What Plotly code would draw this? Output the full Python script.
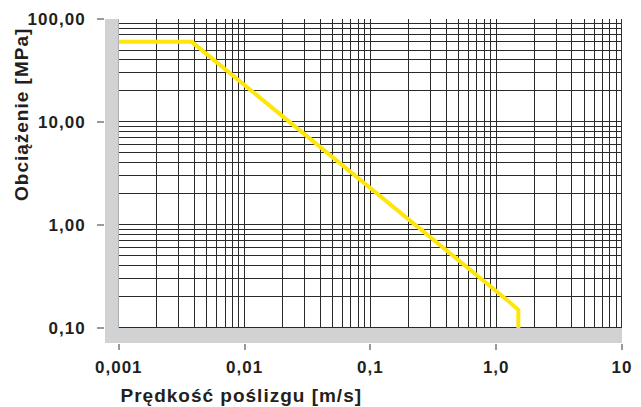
import numpy as np
import plotly.graph_objects as go

# Data
speed = [0.001, 0.0038, 1.2, 1.5, 1.5]      # m/s
load = [60, 60, 0.19, 0.15, 0.1]            # MPa

x_tickvals = [0.001, 0.01, 0.1, 1, 10]
x_ticktext = ["0,001", "0,01", "0,1", "1,0", "10"]
y_tickvals = [0.1, 1, 10, 100]
y_ticktext = ["0,10", "1,00", "10,00", "100,00"]

x_title = "Prędkość poślizgu [m/s]"
y_title = "Obciążenie [MPa]"

x_minor = [m * 10.0 ** e for e in range(-3, 1) for m in range(2, 10)]
y_minor = [m * 10.0 ** e for e in range(-1, 2) for m in range(2, 10)]

FONT = "Liberation Sans, Arial, sans-serif"
TXT = "#231f20"
GRID = "#2a2a2a"
GRAY = "#d1d2d4"

x_lo = -3 - 14 / 127.75
y_lo = -1 - 15 / 102.7

fig = go.Figure()
fig.add_trace(go.Scatter(x=speed, y=load, mode="lines",
                         line=dict(color="#ffe60a", width=4),
                         hoverinfo="skip", showlegend=False))

fig.update_xaxes(type="log", range=[x_lo, 1],
                 tickvals=x_tickvals, ticktext=x_ticktext,
                 ticks="outside", ticklen=6, tickcolor="#9a9a9a", tickwidth=1.5,
                 ticklabelstandoff=3,
                 showgrid=True, gridcolor=GRID, gridwidth=1,
                 minor=dict(tickvals=x_minor, showgrid=True, gridcolor=GRID,
                            gridwidth=1, ticks=""),
                 zeroline=False, showline=False,
                 tickfont=dict(family=FONT, size=17, color=TXT, weight="bold"))
fig.update_yaxes(type="log", range=[y_lo, 2],
                 tickvals=y_tickvals, ticktext=y_ticktext,
                 ticks="outside", ticklen=7, tickcolor="#9a9a9a", tickwidth=1.5,
                 ticklabelstandoff=8,
                 showgrid=True, gridcolor=GRID, gridwidth=1,
                 minor=dict(tickvals=y_minor, showgrid=True, gridcolor=GRID,
                            gridwidth=1, ticks=""),
                 zeroline=False, showline=False,
                 tickfont=dict(family=FONT, size=17, color=TXT, weight="bold"))

# gray L-shaped band (drawn over the grid)
fig.add_shape(type="rect", xref="x", yref="paper", x0=10 ** x_lo, x1=0.001,
              y0=0, y1=1, fillcolor=GRAY, line_width=0, layer="above")
fig.add_shape(type="rect", xref="paper", yref="y", x0=0, x1=1,
              y0=10 ** y_lo, y1=0.1, fillcolor=GRAY, line_width=0, layer="above")
# right border
fig.add_shape(type="line", xref="x", yref="y", x0=10, x1=10, y0=0.1, y1=100,
              line=dict(color="#333", width=2), layer="above")

fig.add_annotation(text=x_title, xref="paper", yref="paper", x=0, y=0,
                   xanchor="left", yanchor="middle", xshift=25, yshift=-52,
                   showarrow=False,
                   font=dict(family=FONT, size=19, color=TXT, weight="bold"))
fig.add_annotation(text=y_title, xref="paper", yref="paper", x=0, y=0.5,
                   xanchor="center", yanchor="middle", textangle=-90,
                   xshift=-84, yshift=66, showarrow=False,
                   font=dict(family=FONT, size=19, color=TXT, weight="bold"))

fig.update_layout(width=641, height=407,
                  margin=dict(l=105, r=10, t=19, b=64),
                  paper_bgcolor="white", plot_bgcolor="white")

# slight tracking of the text, as in the printed original
post = ("document.querySelectorAll('.annotation-text').forEach(function(t){"
        "t.style.letterSpacing='1px';});"
        "document.querySelectorAll('.xtick text, .ytick text').forEach(function(t){"
        "t.style.letterSpacing='1px';});")
fig.write_html("out.html", post_script=post)
